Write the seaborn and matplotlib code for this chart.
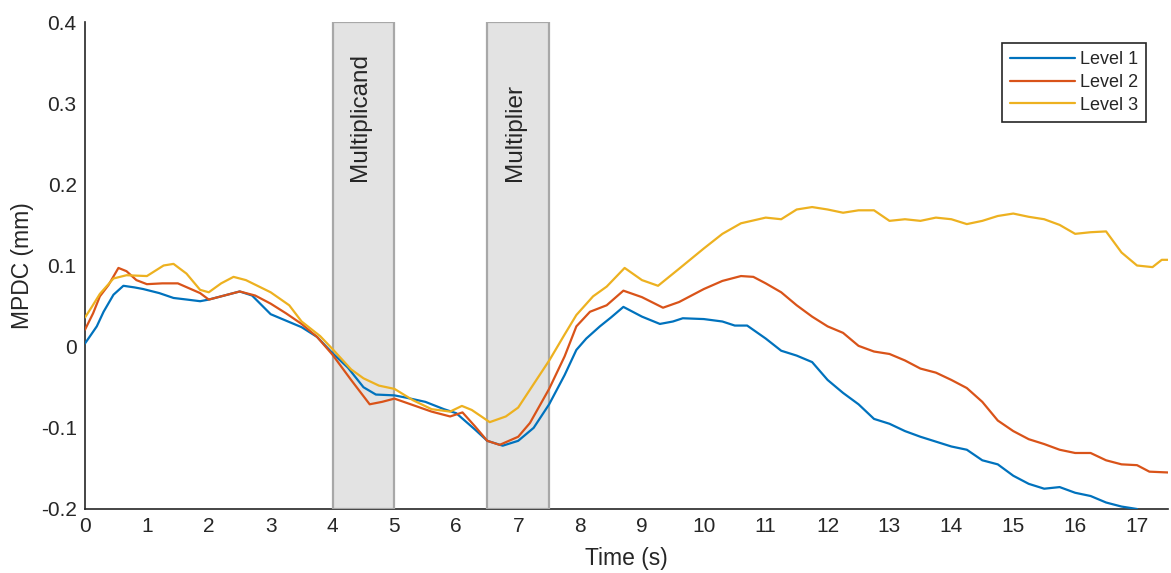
import numpy as np
import pandas as pd
import matplotlib
matplotlib.use("Agg")
import matplotlib.pyplot as plt
import seaborn as sns

# ---------------- data ----------------
t1 = [0, 0.1, 0.19, 0.3, 0.46, 0.62, 0.8, 0.94, 1.2, 1.43,
      1.65, 1.86, 2.0, 2.25, 2.5, 2.7, 3.0, 3.25, 3.5, 3.75,
      4.0, 4.25, 4.5, 4.7, 5.0, 5.2, 5.5, 5.8, 6.0, 6.3,
      6.5, 6.75, 7.0, 7.25, 7.5, 7.75, 7.94, 8.1, 8.32, 8.5,
      8.7, 9.0, 9.29, 9.5, 9.66, 10.0, 10.3, 10.5, 10.7, 11.0,
      11.25, 11.5, 11.75, 12.0, 12.25, 12.5, 12.75, 13.0, 13.25, 13.5,
      13.75, 14.0, 14.25, 14.5, 14.75, 15.0, 15.25, 15.5, 15.75, 16.0,
      16.25, 16.5, 16.75, 17.0]
level1 = [0.004, 0.015, 0.025, 0.043, 0.064, 0.075, 0.073, 0.071, 0.066, 0.060,
          0.058, 0.056, 0.058, 0.063, 0.068, 0.063, 0.040, 0.032, 0.024, 0.012,
          -0.008, -0.026, -0.050, -0.059, -0.060, -0.063, -0.068, -0.077, -0.082, -0.102,
          -0.116, -0.122, -0.116, -0.100, -0.071, -0.035, -0.004, 0.010, 0.025, 0.036,
          0.049, 0.037, 0.028, 0.031, 0.035, 0.034, 0.031, 0.026, 0.026, 0.010,
          -0.005, -0.011, -0.019, -0.041, -0.057, -0.071, -0.089, -0.095, -0.104, -0.111,
          -0.117, -0.123, -0.127, -0.140, -0.145, -0.159, -0.169, -0.175, -0.173, -0.180,
          -0.184, -0.192, -0.197, -0.200]

t2 = [0, 0.13, 0.24, 0.38, 0.54, 0.67, 0.83, 1.0, 1.25, 1.5,
      1.86, 2.0, 2.25, 2.5, 2.75, 3.0, 3.25, 3.5, 3.75, 4.0,
      4.3, 4.6, 4.8, 5.0, 5.3, 5.6, 5.9, 6.1, 6.3, 6.5,
      6.7, 7.0, 7.19, 7.5, 7.75, 7.94, 8.16, 8.43, 8.7, 9.0,
      9.34, 9.6, 10.0, 10.3, 10.6, 10.8, 11.0, 11.25, 11.5, 11.75,
      12.0, 12.25, 12.5, 12.75, 13.0, 13.25, 13.5, 13.75, 14.0, 14.25,
      14.5, 14.75, 15.0, 15.25, 15.5, 15.75, 16.0, 16.25, 16.5, 16.75,
      17.0, 17.2, 17.5]
level2 = [0.021, 0.041, 0.062, 0.076, 0.097, 0.093, 0.082, 0.077, 0.078, 0.078,
          0.066, 0.058, 0.063, 0.068, 0.063, 0.053, 0.041, 0.028, 0.012, -0.010,
          -0.041, -0.071, -0.068, -0.064, -0.072, -0.080, -0.086, -0.081, -0.098, -0.116,
          -0.121, -0.111, -0.094, -0.052, -0.012, 0.025, 0.043, 0.051, 0.069, 0.061,
          0.048, 0.055, 0.071, 0.081, 0.087, 0.086, 0.078, 0.067, 0.051, 0.037,
          0.025, 0.017, 0.001, -0.006, -0.009, -0.017, -0.027, -0.032, -0.041, -0.051,
          -0.068, -0.091, -0.104, -0.114, -0.120, -0.127, -0.131, -0.131, -0.140, -0.145,
          -0.146, -0.154, -0.155]

t3 = [0, 0.11, 0.24, 0.46, 0.67, 1.0, 1.27, 1.43, 1.64, 1.86,
      2.0, 2.2, 2.4, 2.6, 3.0, 3.3, 3.5, 3.8, 4.0, 4.3,
      4.5, 4.75, 5.0, 5.3, 5.6, 5.9, 6.09, 6.25, 6.54, 6.8,
      7.0, 7.19, 7.51, 7.75, 7.94, 8.21, 8.43, 8.72, 9.0, 9.26,
      9.6, 10.0, 10.3, 10.6, 11.0, 11.25, 11.5, 11.75, 12.0, 12.25,
      12.5, 12.75, 13.0, 13.25, 13.5, 13.75, 14.0, 14.25, 14.5, 14.75,
      15.0, 15.25, 15.5, 15.75, 16.0, 16.25, 16.5, 16.75, 17.0, 17.25,
      17.4, 17.5]
level3 = [0.036, 0.049, 0.065, 0.084, 0.088, 0.087, 0.100, 0.102, 0.090, 0.070,
          0.067, 0.078, 0.086, 0.082, 0.067, 0.051, 0.031, 0.013, -0.003, -0.028,
          -0.039, -0.048, -0.052, -0.066, -0.077, -0.080, -0.073, -0.078, -0.093, -0.086,
          -0.075, -0.053, -0.016, 0.015, 0.039, 0.062, 0.074, 0.097, 0.082, 0.075,
          0.096, 0.121, 0.139, 0.152, 0.159, 0.157, 0.169, 0.172, 0.169, 0.165,
          0.168, 0.168, 0.155, 0.157, 0.155, 0.159, 0.157, 0.151, 0.155, 0.161,
          0.164, 0.160, 0.157, 0.150, 0.139, 0.141, 0.142, 0.116, 0.100, 0.098,
          0.107, 0.107]

series_names = ["Level 1", "Level 2", "Level 3"]
series_colors = ["#0072BD", "#D95319", "#EDB120"]

phase_labels = ["Multiplicand", "Multiplier"]
phase_starts = [4.0, 6.5]
phase_ends = [5.0, 7.5]

x_ticks = list(range(0, 18))
y_ticks = [-0.2, -0.1, 0, 0.1, 0.2, 0.3, 0.4]
y_tick_labels = ["-0.2", "-0.1", "0", "0.1", "0.2", "0.3", "0.4"]

# ---------------- build table ----------------
df = pd.concat([
    pd.DataFrame({"Time": t1, "MPDC": level1, "Level": series_names[0]}),
    pd.DataFrame({"Time": t2, "MPDC": level2, "Level": series_names[1]}),
    pd.DataFrame({"Time": t3, "MPDC": level3, "Level": series_names[2]}),
], ignore_index=True)

# ---------------- style ----------------
sns.set_style("white")
plt.rcParams["font.family"] = ["Liberation Sans", "DejaVu Sans"]
plt.rcParams["axes.unicode_minus"] = False
txt = "#262626"

fig = plt.figure(figsize=(11.71, 5.73), dpi=100)
ax = fig.add_axes([0.0726, 0.1117, 0.9248, 0.8499])
ax.set_axisbelow(True)

for lab, s, e in zip(phase_labels, phase_starts, phase_ends):
    ax.axvspan(s, e, facecolor="#e3e3e3", edgecolor="#a8a8a8", linewidth=1.6, zorder=2)
    ax.text((s + e) / 2 - 0.05, 0.204, lab, rotation=90, ha="center", va="bottom",
            fontsize=17.5, color=txt, zorder=2.2)

sns.lineplot(data=df, x="Time", y="MPDC", hue="Level", hue_order=series_names,
             palette=dict(zip(series_names, series_colors)), estimator=None,
             sort=True, linewidth=1.6, ax=ax, zorder=3)

ax.set_xlim(0, 17.5)
ax.set_ylim(-0.2, 0.4)
ax.set_xticks(x_ticks)
ax.set_xticklabels([str(v) for v in x_ticks])
ax.set_yticks(y_ticks)
ax.set_yticklabels(y_tick_labels)
ax.tick_params(axis="both", direction="in", length=7.5, width=1.2, colors=txt,
               labelsize=15, pad=6)
for sp in ["top", "right"]:
    ax.spines[sp].set_visible(False)
for sp in ["left", "bottom"]:
    ax.spines[sp].set_color(txt)
    ax.spines[sp].set_linewidth(1.2)
    ax.spines[sp].set_zorder(1)

ax.set_xlabel("Time (s)", fontsize=16.5, color=txt, labelpad=8)
ax.set_ylabel("MPDC (mm)", fontsize=16.5, color=txt, labelpad=5)

handles, labels = ax.get_legend_handles_labels()
leg = ax.legend(handles, labels, loc="upper right", bbox_to_anchor=(0.98, 0.957),
                borderaxespad=0, fontsize=13, frameon=True, fancybox=False,
                handlelength=3.6, handletextpad=0.3, labelspacing=0.32,
                borderpad=0.45, edgecolor="#262626", framealpha=1)
leg.get_frame().set_linewidth(1.2)
leg.set_zorder(5)
for t in leg.get_texts():
    t.set_color(txt)

fig.savefig("out.png", dpi=100)
